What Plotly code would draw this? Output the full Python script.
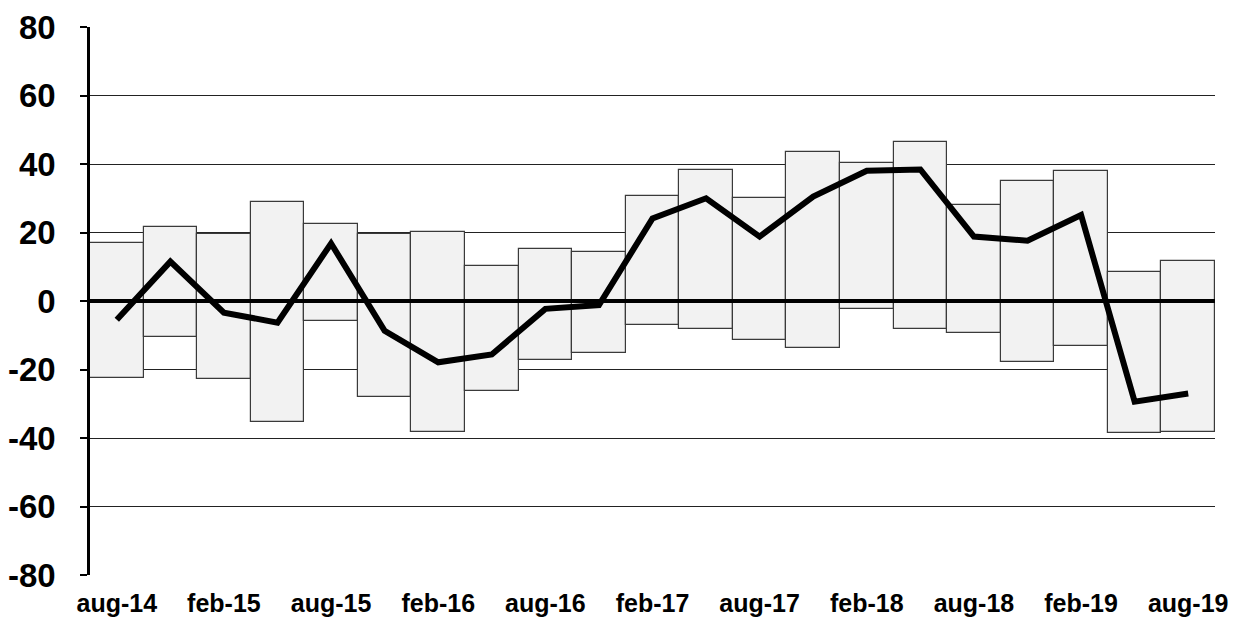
import plotly.graph_objects as go

periods = ["aug-14", "nov-14", "feb-15", "mei-15", "aug-15", "nov-15", "feb-16", "mei-16",
           "aug-16", "nov-16", "feb-17", "mei-17", "aug-17", "nov-17", "feb-18", "mei-18",
           "aug-18", "nov-18", "feb-19", "mei-19", "aug-19"]
range_high = [17.0, 21.7, 19.5, 28.9, 22.5, 19.5, 20.1, 10.1, 15.2, 14.4, 30.7,
              38.2, 30.0, 43.6, 40.3, 46.4, 28.1, 35.1, 37.9, 8.5, 11.6]
range_low = [-22.6, -10.6, -22.9, -35.2, -5.8, -28.1, -38.3, -26.3, -17.2, -15.3, -7.0,
             -8.3, -11.4, -13.7, -2.4, -8.3, -9.4, -17.7, -13.0, -38.6, -38.3]
balance = [-5.5, 11.5, -3.4, -6.3, 16.8, -8.7, -17.9, -15.6, -2.3, -1.2, 24.1,
           30.0, 18.8, 30.5, 38.0, 38.4, 18.8, 17.6, 25.1, -29.4, -27.0]
tick_labels = ["aug-14", "feb-15", "aug-15", "feb-16", "aug-16", "feb-17",
               "aug-17", "feb-18", "aug-18", "feb-19", "aug-19"]
y_ticks = [-80, -60, -40, -20, 0, 20, 40, 60, 80]
y_tick_text = ["-80", "-60", "-40", "-20", "0", "20", "40", "60", "80"]

x_idx = list(range(len(periods)))
tick_pos = [periods.index(t) for t in tick_labels]

fig = go.Figure()
fig.add_trace(go.Bar(
    x=x_idx,
    y=[h - l for h, l in zip(range_high, range_low)],
    base=range_low,
    marker=dict(color="#f2f2f2", line=dict(color="#3a3a3a", width=1.2)),
    hoverinfo="skip",
    showlegend=False,
))
fig.add_trace(go.Scatter(
    x=x_idx, y=balance, mode="lines",
    line=dict(color="black", width=6),
    showlegend=False,
))

fig.add_shape(type="line", xref="paper", x0=0, x1=1, yref="y", y0=0, y1=0,
              line=dict(color="black", width=4), layer="above")

fig.update_layout(
    width=1229, height=617,
    margin=dict(l=82, r=22, t=19, b=50, autoexpand=False),
    paper_bgcolor="white", plot_bgcolor="white",
    bargap=0,
    font=dict(family="Liberation Sans, Arial", color="black"),
    xaxis=dict(
        range=[-0.5, len(periods) - 0.5],
        tickmode="array", tickvals=tick_pos, ticktext=tick_labels,
        tickfont=dict(size=25, weight="bold"),
        showgrid=False, zeroline=False, showline=False, ticks="",
        ticklabelstandoff=11, automargin=False,
    ),
    yaxis=dict(
        range=[-80, 80],
        tickmode="array", tickvals=y_ticks, ticktext=y_tick_text,
        tickfont=dict(size=33, weight="bold"),
        showgrid=True, gridcolor="#222222", gridwidth=1.2,
        zeroline=False,
        showline=True, linecolor="black", linewidth=2.5,
        ticks="outside", ticklen=7, tickwidth=2, tickcolor="black",
        ticklabelstandoff=18, automargin=False,
    ),
)

fig.write_html("out.html")
